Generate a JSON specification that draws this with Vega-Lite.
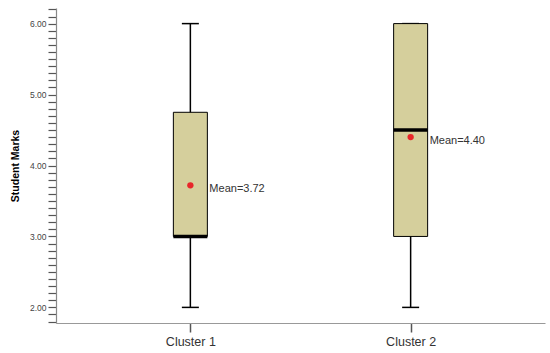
{
  "$schema": "https://vega.github.io/schema/vega-lite/v6.json",
  "autosize": {"type": "none"},
  "padding": {"left": 56, "top": 8, "right": 5, "bottom": 30},
  "width": 489,
  "height": 315,
  "background": "white",
  "config": {"view": {"stroke": null}, "font": "Liberation Sans"},
  "data": {"values": [
    {"cluster": "Cluster 1", "min": 2, "q1": 3, "median": 3, "q3": 4.75, "max": 6, "mean": 3.72, "label": "Mean=3.72"},
    {"cluster": "Cluster 2", "min": 2, "q1": 3, "median": 4.5, "q3": 6, "max": 6, "mean": 4.40, "label": "Mean=4.40"}
  ]},
  "encoding": {
    "x": {"field": "cluster", "type": "nominal", "scale": {"type": "point", "padding": 0.61},
      "axis": {"title": null, "labelAngle": 0, "labelFontSize": 12.5, "labelColor": "#333333", "labelPadding": 3,
        "domainColor": "#999999", "tickColor": "#555555", "tickSize": 9, "tickWidth": 1.5, "domainWidth": 1.2}}
  },
  "layer": [
    {"mark": {"type": "rule", "color": "black", "strokeWidth": 1.5},
     "encoding": {
       "y": {"field": "min", "type": "quantitative", "scale": {"domain": [1.78, 6.22], "nice": false, "zero": false},
         "axis": {"title": "Student Marks", "titleFont": "Liberation Sans", "titleFontSize": 10.5, "titleFontWeight": "bold", "titleColor": "black", "titlePadding": 9,
           "values": [1.8,1.9,2,2.1,2.2,2.3,2.4,2.5,2.6,2.7,2.8,2.9,3,3.1,3.2,3.3,3.4,3.5,3.6,3.7,3.8,3.9,4,4.1,4.2,4.3,4.4,4.5,4.6,4.7,4.8,4.9,5,5.1,5.2,5.3,5.4,5.5,5.6,5.7,5.8,5.9,6,6.1,6.2],
           "tickCount": 200,
           "labelExpr": "abs(datum.value - round(datum.value)) < 0.001 ? format(datum.value, '.2f') : ''",
           "labelOverlap": false, "labelFontSize": 8.5, "labelColor": "#444444", "labelPadding": 2,
           "grid": false, "domainColor": "#888888", "domainWidth": 1.2, "tickColor": "#555555", "tickSize": 8, "tickWidth": 1.2,
           "encode": {"ticks": {"update": {"x2": {"signal": "abs(datum.value - round(datum.value)) < 0.001 ? -8 : -5"}}}}}},
       "y2": {"field": "max"}
     }},
    {"mark": {"type": "tick", "color": "black", "opacity": 1, "thickness": 1.5, "size": 17, "orient": "horizontal"},
     "encoding": {"y": {"field": "min", "type": "quantitative"}}},
    {"mark": {"type": "tick", "color": "black", "opacity": 1, "thickness": 1.5, "size": 17, "orient": "horizontal"},
     "encoding": {"y": {"field": "max", "type": "quantitative"}}},
    {"mark": {"type": "bar", "fill": "#d5cf9c", "stroke": "black", "strokeWidth": 1, "size": 34},
     "encoding": {"y": {"field": "q1", "type": "quantitative"}, "y2": {"field": "q3"}}},
    {"mark": {"type": "tick", "color": "black", "opacity": 1, "thickness": 3.5, "size": 34, "orient": "horizontal"},
     "encoding": {"y": {"field": "median", "type": "quantitative"}}},
    {"mark": {"type": "circle", "color": "#e8262a", "opacity": 1, "size": 40},
     "encoding": {"y": {"field": "mean", "type": "quantitative"}}},
    {"mark": {"type": "text", "align": "left", "baseline": "middle", "dx": 19, "dy": 4, "fontSize": 11, "color": "#333333"},
     "encoding": {"y": {"field": "mean", "type": "quantitative"}, "text": {"field": "label"}}}
  ]
}
